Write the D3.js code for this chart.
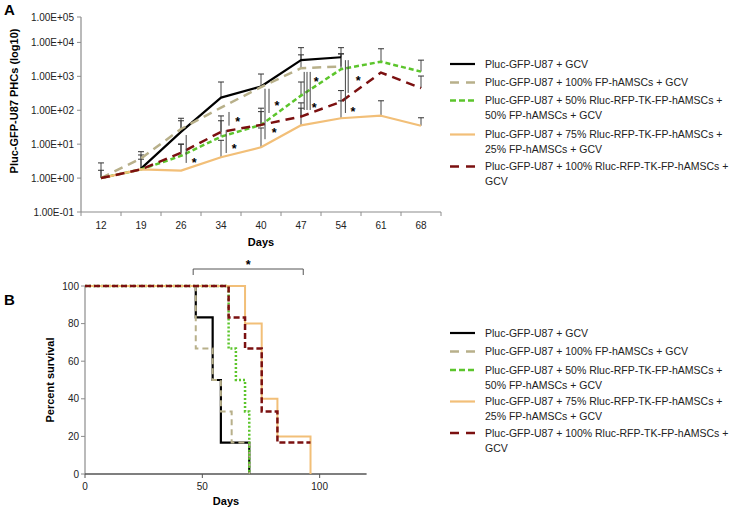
<!DOCTYPE html>
<html><head><meta charset="utf-8">
<script src="https://cdn.jsdelivr.net/npm/d3@7"></script>
<style>
body{margin:0;background:#fff;}
svg{font-family:"Liberation Sans",Arial,sans-serif;}
</style></head>
<body>
<svg id="chart" width="729" height="510"></svg>
<script>
// ---------- DATA: Panel A ----------
const daysA = ['12','19','26','34','40','47','54','61','68'];
const seriesNames = [
  ['Pluc-GFP-U87 + GCV'],
  ['Pluc-GFP-U87 + 100% FP-hAMSCs + GCV'],
  ['Pluc-GFP-U87 + 50% Rluc-RFP-TK-FP-hAMSCs +','50% FP-hAMSCs + GCV'],
  ['Pluc-GFP-U87 + 75% Rluc-RFP-TK-FP-hAMSCs +','25% FP-hAMSCs + GCV'],
  ['Pluc-GFP-U87 + 100% Rluc-RFP-TK-FP-hAMSCs +','GCV']
];
const valsBlack  = [null, 1.9, 23, 235, 500, 3000, 3650, null, null];
const valsTan    = [1.0, 3.8, 28, 120, 480, 1740, 1950, null, null];
const valsGreen  = [1.0, 1.8, 4.5, 16.6, 37, 270, 1620, 2700, 1380];
const valsOrange = [1.0, 1.8, 1.66, 4.1, 8.1, 36, 58, 69, 35];
const valsRed    = [1.0, 1.8, 5.6, 23, 37, 65, 178, 1290, 450];
const errBlack  = [null, 4.8, 58, 680, 1170, 7000, 7000, null, null];
const errTan    = [2.8, 6, 49, null, null, 4300, 4600, null, null];
const errGreen  = [1.7, null, 10, 68, 115, 680, 4600, 6500, 3000];
const errOrange = [null, null, null, 13, 30, 115, 190, 190, 60];
const errRed    = [null, 3.6, 10, 49, 91, 165, 380, null, 1020];
const yTicksA = [0.1, 1, 10, 100, 1000, 10000, 100000];
const yTickLabelsA = ['1.00E-01','1.00E+00','1.00E+01','1.00E+02','1.00E+03','1.00E+04','1.00E+05'];
// significance lines: day, offset (fraction of band), low value, high value
const sigLines = [
  ['26',0.13,2.8,18.6],
  ['34',0.13,5.5,26],['34',0.2,35,89],
  ['40',0.1,14,430],['40',0.2,83,430],
  ['47',0.08,102,1350],['47',0.15,102,1350],['47',0.23,102,1350],
  ['54',0.11,83,3000],['54',0.18,325,3000]
];
const sigStars = [
  ['26',0.33,3.4],
  ['34',0.42,55],['34',0.33,8.9],
  ['40',0.4,165],['40',0.33,26],
  ['47',0.38,830],['47',0.33,145],
  ['54',0.43,890],['54',0.3,110]
];
// ---------- DATA: Panel B ----------
const survBlackT  = [0, 47.2, 54.4, 57.9, 70];   const survBlackP  = [100, 83.3, 50, 16.7, 0];
const survTanT    = [0, 47.2, 54.4, 57.9, 62.5, 70]; const survTanP = [100, 66.7, 50, 33.3, 16.7, 0];
const survGreenT  = [0, 61.2, 64.3, 68.2, 70];   const survGreenP  = [100, 66.7, 50, 33.3, 0];
const survOrangeT = [0, 68.2, 75.3, 82, 96.1];   const survOrangeP = [100, 80, 40, 20, 0];
const survRedT    = [0, 61.2, 68.2, 75.3, 82, 96.1]; const survRedP = [100, 83.3, 66.7, 33.3, 16.7, 16.7];
const xTicksB = [0, 50, 100];
const yTicksB = [0, 20, 40, 60, 80, 100];

// ---------- STYLES ----------
const colors = ['#000000','#b8b08a','#5cc52c','#f2bf78','#7b1010'];
const dashA = [null,'9,6','5,3',null,'9,6'];
const widthA = [2.2,2.5,2.5,2.2,2.5];
const dashB = [null,'6,4','2,2',null,'6,3'];
const widthB = [2.2,2,2.5,2,2.5];

const svg = d3.select('#chart');

// ================= PANEL A =================
const xA = d3.scaleBand().domain(daysA).range([81, 441]);
const yA = d3.scaleLog().domain([0.1, 100000]).range([212, 8.5]);
const yTopA = 17;
const gA = svg.append('g');

// axes
gA.append('line').attr('x1',81).attr('x2',81).attr('y1',yTopA).attr('y2',212).attr('stroke','#8c8c8c').attr('stroke-width',1.2);
gA.append('line').attr('x1',81).attr('x2',441).attr('y1',212).attr('y2',212).attr('stroke','#8c8c8c').attr('stroke-width',1.2);
yTicksA.forEach((t,i)=>{
  const yy = Math.max(yA(t), yTopA);
  gA.append('line').attr('x1',77).attr('x2',81).attr('y1',yy).attr('y2',yy).attr('stroke','#8c8c8c');
  gA.append('text').attr('x',74).attr('y',yy+3.5).attr('text-anchor','end').attr('font-size',10).attr('fill','#222').text(yTickLabelsA[i]);
});
daysA.forEach((d,i)=>{
  const bx = xA(d)+xA.bandwidth();
  gA.append('line').attr('x1',bx).attr('x2',bx).attr('y1',212).attr('y2',216).attr('stroke','#8c8c8c');
  gA.append('text').attr('x',xA(d)+xA.bandwidth()/2).attr('y',229).attr('text-anchor','middle').attr('font-size',10).attr('fill','#222').text(d);
});
gA.append('line').attr('x1',81).attr('x2',81).attr('y1',212).attr('y2',216).attr('stroke','#8c8c8c');
gA.append('text').attr('x',261).attr('y',246).attr('text-anchor','middle').attr('font-size',11).attr('font-weight','bold').text('Days');
gA.append('text').attr('transform','translate(18,101) rotate(-90)').attr('text-anchor','middle').attr('font-size',11).attr('font-weight','bold').text('Pluc-GFP-U87 PHCs (log10)');
svg.append('text').attr('x',4).attr('y',15).attr('font-size',15).attr('font-weight','bold').text('A');

const cx = d => xA(d)+xA.bandwidth()/2;
const valsA = [valsBlack, valsTan, valsGreen, valsOrange, valsRed];
const errsA = [errBlack, errTan, errGreen, errOrange, errRed];

// error bars
errsA.forEach((errs,s)=>{
  errs.forEach((e,i)=>{
    const v = valsA[s][i];
    if(e==null || v==null) return;
    const x = cx(daysA[i]);
    gA.append('line').attr('x1',x).attr('x2',x).attr('y1',yA(v)).attr('y2',yA(e)).attr('stroke','#333').attr('stroke-width',0.9);
    gA.append('line').attr('x1',x-3).attr('x2',x+3).attr('y1',yA(e)).attr('y2',yA(e)).attr('stroke','#333').attr('stroke-width',1);
  });
});
// lines
const lineA = d3.line().defined(d=>d.v!=null).x(d=>cx(d.d)).y(d=>yA(d.v));
valsA.forEach((vals,s)=>{
  const data = daysA.map((d,i)=>({d:d,v:vals[i]}));
  gA.append('path').datum(data).attr('d',lineA).attr('fill','none')
    .attr('stroke',colors[s]).attr('stroke-width',widthA[s])
    .attr('stroke-dasharray',dashA[s]).attr('stroke-linejoin','round');
});
// significance marks
sigLines.forEach(([d,off,lo,hi])=>{
  const x = cx(d)+off*xA.bandwidth();
  gA.append('line').attr('x1',x).attr('x2',x).attr('y1',yA(lo)).attr('y2',yA(hi)).attr('stroke','#444').attr('stroke-width',1);
});
sigStars.forEach(([d,off,v])=>{
  gA.append('text').attr('x',cx(d)+off*xA.bandwidth()).attr('y',yA(v)+7).attr('text-anchor','middle').attr('font-size',12.5).attr('font-weight','bold').text('*');
});

// legend A
const legA = [64, 82.5, 100.5, 134.5, 166.5];
const legB = [333, 351.5, 370, 401.5, 433];
function legend(ys, dashes, widths){
  ys.forEach((y,s)=>{
    svg.append('line').attr('x1',450).attr('x2',475).attr('y1',y).attr('y2',y)
      .attr('stroke',colors[s]).attr('stroke-width',widths[s]).attr('stroke-dasharray',dashes[s]);
    seriesNames[s].forEach((t,k)=>{
      svg.append('text').attr('x',485).attr('y',y+3.7+k*14.8).attr('font-size',10.5).attr('fill','#222').text(t);
    });
  });
}
legend(legA, ['','9,7','6,3','','9,7'], [2.2,2.5,2.5,2.2,2.5]);

// ================= PANEL B =================
const xB = d3.scaleLinear().domain([0,120]).range([85, 366.6]);
const yB = d3.scaleLinear().domain([0,100]).range([474, 286]);
const gB = svg.append('g');
svg.append('text').attr('x',4).attr('y',305).attr('font-size',15).attr('font-weight','bold').text('B');

gB.append('line').attr('x1',85).attr('x2',85).attr('y1',yB(100)).attr('y2',474).attr('stroke','#8c8c8c').attr('stroke-width',1.2);
gB.append('line').attr('x1',85).attr('x2',366.6).attr('y1',474).attr('y2',474).attr('stroke','#555').attr('stroke-width',1.4);
yTicksB.forEach(t=>{
  gB.append('line').attr('x1',81).attr('x2',85).attr('y1',yB(t)).attr('y2',yB(t)).attr('stroke','#8c8c8c');
  gB.append('text').attr('x',79).attr('y',yB(t)+3.6).attr('text-anchor','end').attr('font-size',10).attr('fill','#222').text(t);
});
xTicksB.forEach(t=>{
  gB.append('line').attr('x1',xB(t)).attr('x2',xB(t)).attr('y1',474).attr('y2',478).attr('stroke','#555');
  gB.append('text').attr('x',xB(t)).attr('y',490).attr('text-anchor','middle').attr('font-size',10).attr('fill','#222').text(t);
});
gB.append('text').attr('x',226).attr('y',505).attr('text-anchor','middle').attr('font-size',11).attr('font-weight','bold').text('Days');
gB.append('text').attr('transform','translate(54,380) rotate(-90)').attr('text-anchor','middle').attr('font-size',11).attr('font-weight','bold').text('Percent survival');

const survT = [survBlackT, survTanT, survGreenT, survOrangeT, survRedT];
const survP = [survBlackP, survTanP, survGreenP, survOrangeP, survRedP];
const stepLine = d3.line().x(d=>xB(d[0])).y(d=>yB(d[1])).curve(d3.curveStepAfter);
survT.forEach((ts,s)=>{
  const data = ts.map((t,i)=>[t, survP[s][i]]);
  gB.append('path').datum(data).attr('d',stepLine).attr('fill','none')
    .attr('stroke',colors[s]).attr('stroke-width',widthB[s]).attr('stroke-dasharray',dashB[s]);
});
// bracket
const brL = 46.1, brR = 93;
gB.append('path').attr('d',`M${xB(brL)},275V269H${xB(brR)}V275`).attr('fill','none').attr('stroke','#555').attr('stroke-width',1);
gB.append('text').attr('x',xB((brL+brR)/2)).attr('y',269).attr('text-anchor','middle').attr('font-size',12.5).attr('font-weight','bold').text('*');

legend(legB, ['','9,7','6,3','','9,7'], [2.2,2.5,2.5,2.2,2.5]);
</script>
</body></html>
